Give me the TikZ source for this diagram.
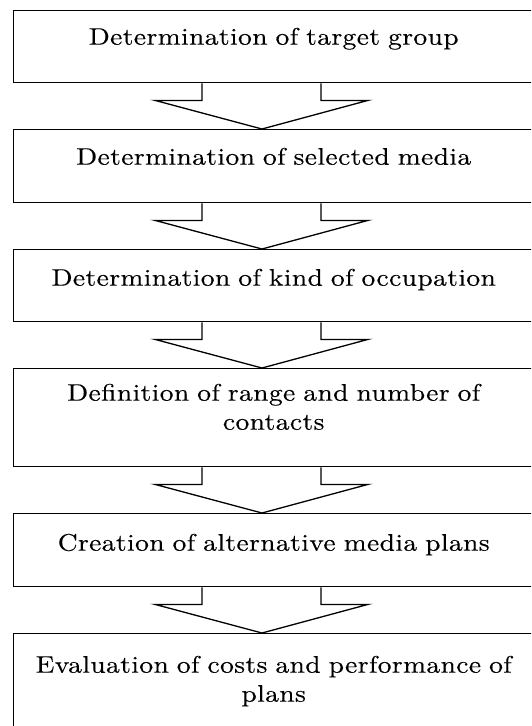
\documentclass[tikz,border=0pt]{standalone}
\usepackage{fontspec}
\setmainfont{lmroman10-regular.otf}[FakeStretch=1.15, LetterSpace=1.5, FakeBold=0.25]
\usetikzlibrary{calc}
\begin{document}
\begin{tikzpicture}[x=1pt,y=-1pt,
  box/.style={draw, line width=1.4pt, inner sep=0pt, anchor=north west,
    minimum width=520pt, text width=520pt, align=center,
    font=\fontsize{24}{29}\selectfont},
  blockarrow/.style={draw, line width=1.3pt, line join=miter}]
\useasboundingbox (0,0) rectangle (531,726);
\clip (0,0) rectangle (531,726);
\node[box, text height=34pt, text depth=38pt] (b1) at (13,10) {Determination of target group};
\node[box, text height=35pt, text depth=38pt] (b2) at (13,129) {Determination of selected media};
\node[box, text height=36pt, text depth=36pt] (b3) at (13,249) {Determination of kind of occupation};
\node[box, text height=32pt, text depth=66pt] (b4) at (13,368) {Definition of range and number of\\contacts};
\node[box, text height=37pt, text depth=36pt] (b5) at (13,513) {Creation of alternative media plans};
\node[box, text height=39pt, text depth=68pt] (b6) at (13,633) {Evaluation of costs and performance of\\plans};
\foreach \a/\b in {b1/b2,b2/b3,b3/b4,b4/b5,b5/b6}{
  \draw[blockarrow] ($(\a.south west)+(189,0)$) -- ($(\a.south west)+(189,17)$)
    -- ($(\a.south west)+(142,17)$) -- ($(\b.north west)+(249,0)$)
    -- ($(\a.south west)+(355,17)$) -- ($(\a.south west)+(308,17)$)
    -- ($(\a.south west)+(308,0)$);
}
\end{tikzpicture}
\end{document}
